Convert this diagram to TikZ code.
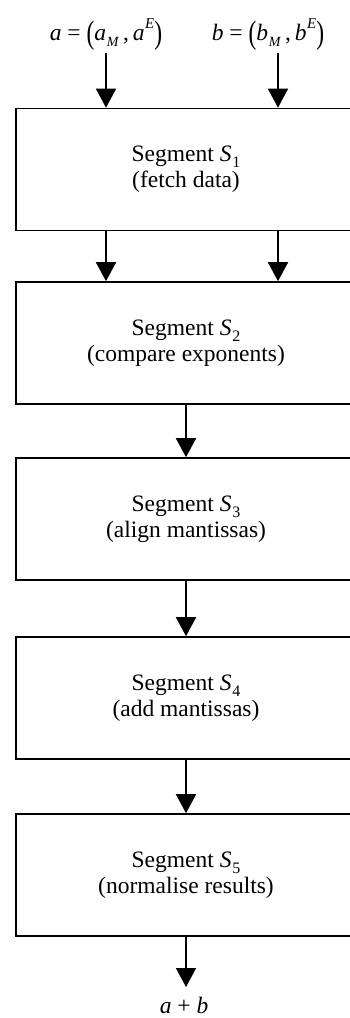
\documentclass[tikz,border=0pt]{standalone}
\usepackage{fontspec}
\setmainfont{Liberation Serif}
\usepackage{graphicx}
\usetikzlibrary{arrows.meta}

% small lowered / raised indices for the formula labels
\newcommand\ilo[1]{\kern0.8pt\raisebox{-0.26em}{\fontsize{16}{16}\selectfont #1}}
\newcommand\ihi[1]{\kern0.5pt\raisebox{0.5em}{\fontsize{15}{15}\selectfont\itshape #1}}
\newcommand\tallparen[1]{\raisebox{-0.14em}{\scalebox{1}[1.38]{#1}}}

\tikzset{
  seg/.style={draw, line width=1.6pt, rectangle, minimum width=340pt,
    minimum height=122pt, inner sep=0pt, align=center,
    font=\fontsize{23.5}{26}\selectfont},
  lbl/.style={inner sep=0pt, font=\fontsize{23.5}{26}\selectfont},
  arr/.style={line width=1.6pt, -{Triangle[width=20pt,length=19pt]}},
}

\begin{document}
\begin{tikzpicture}[x=1pt, y=-1pt]
  \useasboundingbox (0,0) rectangle (350,1018);
  \clip (0,0) rectangle (350,1018);

  % operands
  \node[lbl] (opa) at (106,35) {\textit{a} = \tallparen{(}\textit{a}\ilo{\fontsize{14}{14}\selectfont\textit{M}}\,,\,\textit{a}\ihi{E}\tallparen{)}};
  \node[lbl] (opb) at (268,35) {\textit{b} = \tallparen{(}\textit{b}\ilo{\fontsize{14}{14}\selectfont\textit{M}}\,,\,\textit{b}\ihi{E}\tallparen{)}};
  \coordinate (ina) at (106,53);
  \coordinate (inb) at (278,53);

  % pipeline segments
  \node[seg] (s1) at (186,169.5) {Segment \textit{S}\ilo{1}\\(fetch data)};
  \node[seg] (s2) at (186,343)   {Segment \textit{S}\ilo{2}\\(compare exponents)};
  \node[seg] (s3) at (186,519)   {Segment \textit{S}\ilo{3}\\(align mantissas)};
  \node[seg] (s4) at (186,698)   {Segment \textit{S}\ilo{4}\\(add mantissas)};
  \node[seg] (s5) at (186,875)   {Segment \textit{S}\ilo{5}\\(normalise results)};

  % result
  \coordinate (out) at (186,987);
  \node[lbl] (res) at (184,1005) {\textit{a} + \textit{b}};

  % data flow
  \draw[arr] (ina) -- (ina |- s1.north);
  \draw[arr] (inb) -- (inb |- s1.north);
  \draw[arr] (ina |- s1.south) -- (ina |- s2.north);
  \draw[arr] (inb |- s1.south) -- (inb |- s2.north);
  \draw[arr] (s2.south) -- (s3.north);
  \draw[arr] (s3.south) -- (s4.north);
  \draw[arr] (s4.south) -- (s5.north);
  \draw[arr] (s5.south) -- (out);
\end{tikzpicture}
\end{document}
